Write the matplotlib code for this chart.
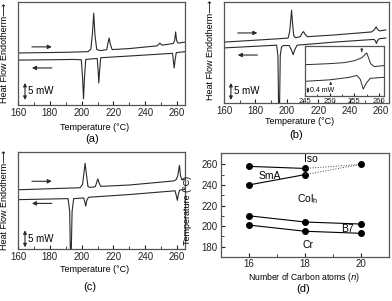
import numpy as np
import matplotlib
matplotlib.use('Agg')
import matplotlib.pyplot as plt

plt.rcParams['font.family'] = ['Liberation Sans', 'DejaVu Sans']

########## Data
# (a) n = 16
a_heat_T = [160, 190, 204, 205.8, 206.8, 207.6, 208.4, 209.5, 212, 215.8, 216.6, 217.3, 218.1, 219.2,
            230, 247.5, 249.2, 250.5, 257.6, 258.5, 259.1, 259.7, 260.6, 265]
a_heat_mW = [15.3, 15.5, 15.7, 16.4, 21.0, 27.0, 20.5, 16.3, 16.0, 16.3, 18.3, 19.7, 17.8, 16.3,
             16.6, 17.4, 18.2, 17.6, 18.1, 19.0, 21.5, 19.0, 18.2, 18.5]
a_cool_T = [160, 195, 199.8, 200.6, 201.2, 201.8, 202.6, 209.8, 210.4, 210.8, 211.3, 212,
            240, 257.2, 257.8, 258.2, 258.7, 259.5, 265]
a_cool_mW = [13.2, 13.4, 13.3, 8.0, 1.8, 8.0, 13.4, 13.7, 10.0, 6.5, 10.0, 13.9,
             14.7, 15.2, 12.5, 10.9, 13.0, 15.4, 15.7]

# (b) n = 18
b_heat_T = [160, 195, 200.8, 201.8, 202.5, 203.0, 203.6, 204.4, 205.5, 208.5, 209.8, 210.6, 211.6, 213,
            230, 254, 255.8, 256.8, 257.8, 259, 263]
b_heat_mW = [17.9, 18.9, 19.1, 21.0, 24.5, 27.3, 23.5, 19.7, 19.2, 19.5, 20.6, 21.0, 20.2, 19.5,
             20.0, 20.9, 21.6, 22.4, 21.6, 21.2, 21.5]
b_cool_T = [160, 193.5, 194.3, 194.8, 195.3, 195.8, 196.6, 197.8, 201.5, 203.0, 204.0, 205.0, 206.5,
            230, 255.5, 256.4, 257.0, 257.6, 258.8, 263]
b_cool_mW = [16.2, 17.0, 14.0, -3.0, -3.0, 14.0, 16.5, 16.9, 16.9, 15.5, 14.2, 15.6, 17.0,
             17.9, 18.7, 18.2, 17.5, 18.3, 18.9, 19.1]

# (b) inset, 245-261 C
in_heat_T = [245, 250, 253, 255, 256.5, 257.5, 258.3, 259, 261]
in_heat_mW = [2.13, 2.2, 2.27, 2.4, 2.6, 2.93, 2.2, 2.0, 2.07]
in_cool_T = [245, 250, 254, 255.5, 256.2, 256.8, 257.4, 258.2, 261]
in_cool_mW = [1.0, 1.1, 1.27, 1.4, 1.13, 0.47, 0.87, 1.2, 1.27]

# (c) n = 20
c_heat_T = [160, 199, 200.6, 201.5, 202.2, 203, 204, 205.5, 208.6, 209.5, 210.2, 211, 212,
            230, 258, 259.5, 260.5, 261.5, 262.2, 263, 265]
c_heat_mW = [17.4, 18.0, 19.0, 22.5, 25.2, 22.0, 18.3, 18.1, 18.3, 19.6, 20.6, 19.4, 18.4,
             18.8, 20.0, 20.4, 21.6, 24.6, 21.5, 20.3, 20.5]
c_cool_T = [160, 191.5, 192.5, 193.0, 193.4, 194.0, 195.0, 201.3, 202.0, 202.6, 203.2, 204.3,
            230, 258.8, 259.6, 260.2, 260.8, 261.6, 265]
c_cool_mW = [14.5, 14.8, 11.0, -3.0, -3.0, 11.0, 14.8, 15.0, 13.8, 12.6, 14.2, 15.2,
             16.0, 17.1, 15.5, 14.3, 16.0, 17.3, 17.5]

# (d) phase diagram
n_carbon = [16, 18, 20]
t_iso = [258, 256, 260]
t_sma = [240, 250, 260]
t_colh = [210, 204, 202]
t_b7 = [201, 195, 193]

########## Layout helpers (pixel based)
W, H = 392, 301
fig = plt.figure(figsize=(W/100, H/100), dpi=100)
line_c = '#2a2a2a'
spine_c = '#555555'

def px_axes(l, t, r, b):
	return fig.add_axes([l/W, 1-b/H, (r-l)/W, (b-t)/H])

def ftxt(x, y, s, **kw):
	fig.text(x/W, 1-y/H, s, ha='center', va='center', **kw)

def style(ax, fs=7):
	for s in ax.spines.values():
		s.set_color(spine_c)
		s.set_linewidth(0.9)
	ax.tick_params(which='both', direction='in', top=False, right=False, labelsize=fs, pad=2.5, colors='#222222')
	ax.tick_params(which='major', length=3)
	ax.tick_params(which='minor', length=2)

def dsc_panel(ax, heat_T, heat_mW, cool_T, cool_mW, ylim, arr_heat, arr_cool, bar):
	ax.plot(heat_T, heat_mW, color=line_c, lw=0.8)
	ax.plot(cool_T, cool_mW, color=line_c, lw=0.8)
	ax.set_xlim(160, 265)
	ax.set_ylim(*ylim)
	ax.set_xticks([160, 180, 200, 220, 240, 260])
	ax.set_xticks([170, 190, 210, 230, 250], minor=True)
	ax.set_yticks([])
	style(ax)
	ax.annotate('', xy=(183, arr_heat), xytext=(167, arr_heat),
				arrowprops=dict(arrowstyle='-|>', color=line_c, lw=0.8, mutation_scale=6))
	ax.annotate('', xy=(167, arr_cool), xytext=(183, arr_cool),
				arrowprops=dict(arrowstyle='-|>', color=line_c, lw=0.8, mutation_scale=6))
	ax.annotate('', xy=(164.4, bar), xytext=(164.4, bar+5),
				arrowprops=dict(arrowstyle='<|-|>', color=line_c, lw=0.8, mutation_scale=5, shrinkA=0, shrinkB=0))
	ax.text(166.2, bar+2.5, '5 mW', fontsize=7, va='center', ha='left')

ylab = 'Heat Flow Endotherm\u27f6'

########## (a)
ax_a = px_axes(18, 2, 185, 105)
dsc_panel(ax_a, a_heat_T, a_heat_mW, a_cool_T, a_cool_mW, (0, 30.3), 17.1, 10.9, 1.5)
ftxt(95, 127, 'Temperature (\u00b0C)', fontsize=6.5)
ftxt(92, 139, '(a)', fontsize=8)
ftxt(5, 53, ylab, fontsize=6.5, rotation=90)

########## (b)
ax_b = px_axes(224, 2, 389, 103)
dsc_panel(ax_b, b_heat_T, b_heat_mW, b_cool_T, b_cool_mW, (0, 29.7), 20.6, 14.1, 0.9)
ftxt(300, 122, 'Temperature (\u00b0C)', fontsize=6.5)
ftxt(296, 135, '(b)', fontsize=8)
ftxt(211, 50, ylab, fontsize=6.5, rotation=90)

ax_in = px_axes(305, 46, 384, 96)
ax_in.plot(in_heat_T, in_heat_mW, color=line_c, lw=0.7)
ax_in.plot(in_cool_T, in_cool_mW, color=line_c, lw=0.7)
ax_in.set_xlim(245, 261)
ax_in.set_ylim(0, 3.4)
ax_in.set_xticks([245, 250, 255, 260])
ax_in.set_xticks([247.5, 252.5, 257.5], minor=True)
ax_in.set_yticks([])
style(ax_in, fs=5.5)
ax_in.tick_params(which='major', length=2, pad=1.5)
ax_in.tick_params(which='minor', length=1.2)
ax_in.annotate('', xy=(256.5, 2.82), xytext=(256.5, 3.2),
			   arrowprops=dict(arrowstyle='-|>', color=line_c, lw=0.6, mutation_scale=3.5))
ax_in.annotate('', xy=(250.2, 0.98), xytext=(250.2, 0.62),
			   arrowprops=dict(arrowstyle='-|>', color=line_c, lw=0.6, mutation_scale=3.5))
ax_in.annotate('', xy=(245.6, 0.2), xytext=(245.6, 0.6),
			   arrowprops=dict(arrowstyle='<|-|>', color=line_c, lw=0.6, mutation_scale=3, shrinkA=0, shrinkB=0))
ax_in.text(246.0, 0.4, '0.4 mW', fontsize=5, va='center', ha='left')

########## (c)
ax_c = px_axes(18, 152, 185, 249)
dsc_panel(ax_c, c_heat_T, c_heat_mW, c_cool_T, c_cool_mW, (0, 28.5), 19.9, 13.4, 0.5)
ftxt(95, 270, 'Temperature (\u00b0C)', fontsize=6.5)
ftxt(90, 287, '(c)', fontsize=8)
ftxt(5, 200, ylab, fontsize=6.5, rotation=90)

########## (d)
ax_d = px_axes(221, 153, 389, 257)
mk = dict(marker='o', ms=4, color='black', mfc='black')
ax_d.plot(n_carbon[:2], t_iso[:2], lw=0.8, **mk)
ax_d.plot(n_carbon[:2], t_sma[:2], lw=0.8, **mk)
ax_d.plot(n_carbon[1:], t_iso[1:], lw=0.7, ls=':', color='#444444')
ax_d.plot(n_carbon[1:], t_sma[1:], lw=0.7, ls=':', color='#444444')
ax_d.plot(n_carbon[2:], t_iso[2:], ls='none', **mk)
ax_d.plot(n_carbon, t_colh, lw=0.8, **mk)
ax_d.plot(n_carbon, t_b7, lw=0.8, **mk)
ax_d.set_xlim(15, 21)
ax_d.set_ylim(170, 271)
ax_d.set_xticks([16, 18, 20])
ax_d.set_xticks([17, 19], minor=True)
ax_d.set_yticks([180, 200, 220, 240, 260])
ax_d.set_yticks([190, 210, 230, 250], minor=True)
style(ax_d)
ax_d.tick_params(axis='x', pad=1.5)
ax_d.text(18.2, 265, 'Iso', fontsize=7.5, ha='center', va='center')
ax_d.text(16.75, 249, 'SmA', fontsize=7.5, ha='center', va='center')
ax_d.text(18.1, 226, 'Col$_\\mathregular{h}$', fontsize=7.5, ha='center', va='center')
ax_d.text(19.5, 197.5, 'B7', fontsize=7.5, ha='center', va='center')
ax_d.text(18.1, 181.5, 'Cr', fontsize=7.5, ha='center', va='center')
ftxt(304, 277.5, 'Number of Carbon atoms ($\\mathit{n}$)', fontsize=6.2)
ftxt(303, 289, '(d)', fontsize=8)
ftxt(188, 210, 'Temperature (\u00b0C)', fontsize=6.5, rotation=90)

fig.savefig('out.png', dpi=100)
